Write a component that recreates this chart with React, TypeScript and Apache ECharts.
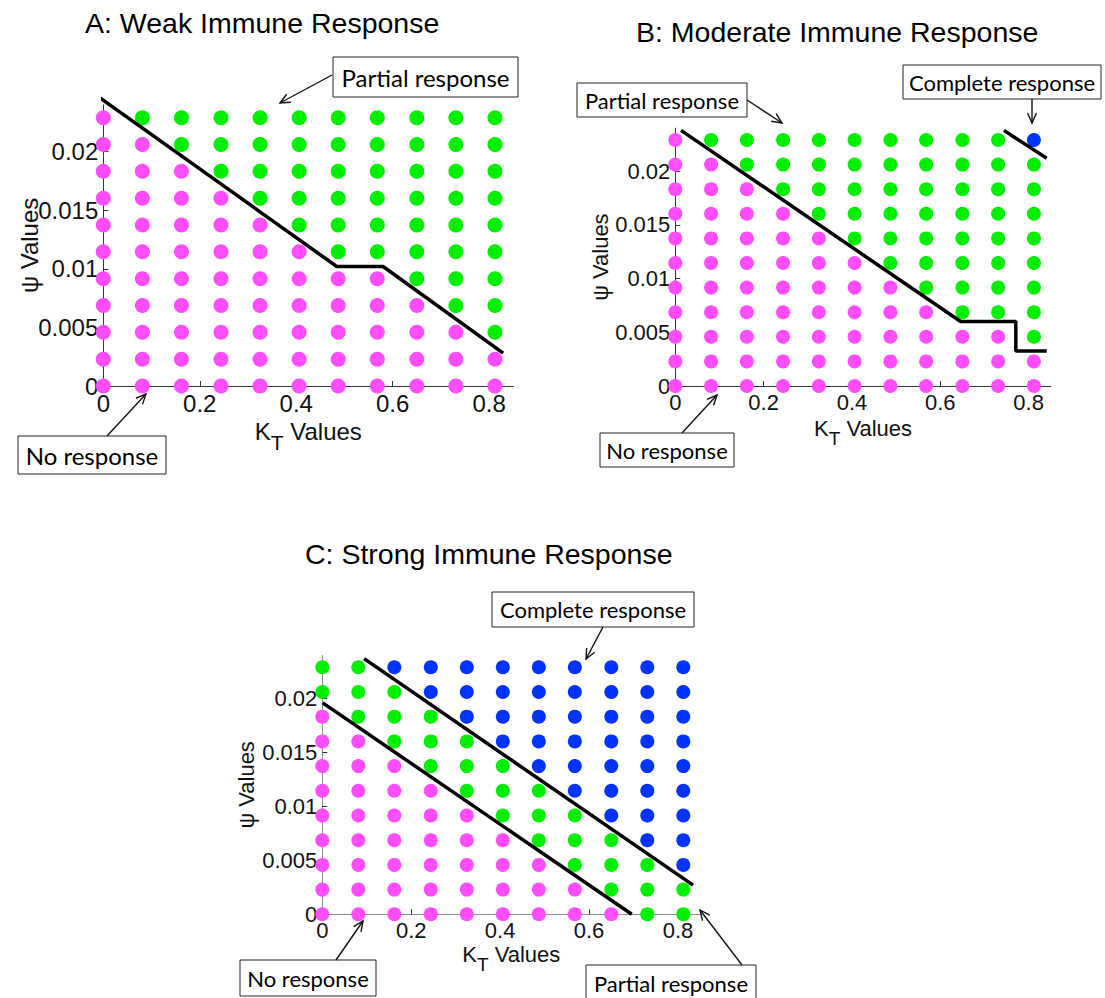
import React, { useEffect, useRef } from "react";
import * as echarts from "echarts";

// ---------- data ----------
const kValues = [0, 0.081, 0.162, 0.244, 0.325, 0.406, 0.487, 0.568, 0.65, 0.731, 0.812];
// rows listed from the top of each plot (largest psi) downwards
const psiValues = [0.0229, 0.02061, 0.01832, 0.01603, 0.01374, 0.01145, 0.00916, 0.00687, 0.00458, 0.00229, 0];
const xTickValues = [0, 0.2, 0.4, 0.6, 0.8];
const yTickValues = [0, 0.005, 0.01, 0.015, 0.02];
const responseNames = ["No response", "Partial response", "Complete response"];
const responseColors = ["#ff4dff", "#00ee00", "#0033ff"];

// 0 = no response, 1 = partial response, 2 = complete response
const weakResponse = [
  [0, 1, 1, 1, 1, 1, 1, 1, 1, 1, 1],
  [0, 0, 1, 1, 1, 1, 1, 1, 1, 1, 1],
  [0, 0, 0, 1, 1, 1, 1, 1, 1, 1, 1],
  [0, 0, 0, 0, 1, 1, 1, 1, 1, 1, 1],
  [0, 0, 0, 0, 0, 1, 1, 1, 1, 1, 1],
  [0, 0, 0, 0, 0, 0, 1, 1, 1, 1, 1],
  [0, 0, 0, 0, 0, 0, 0, 0, 1, 1, 1],
  [0, 0, 0, 0, 0, 0, 0, 0, 0, 1, 1],
  [0, 0, 0, 0, 0, 0, 0, 0, 0, 0, 1],
  [0, 0, 0, 0, 0, 0, 0, 0, 0, 0, 0],
  [0, 0, 0, 0, 0, 0, 0, 0, 0, 0, 0],
];
const moderateResponse = [
  [0, 1, 1, 1, 1, 1, 1, 1, 1, 1, 2],
  [0, 0, 1, 1, 1, 1, 1, 1, 1, 1, 1],
  [0, 0, 0, 1, 1, 1, 1, 1, 1, 1, 1],
  [0, 0, 0, 0, 1, 1, 1, 1, 1, 1, 1],
  [0, 0, 0, 0, 0, 1, 1, 1, 1, 1, 1],
  [0, 0, 0, 0, 0, 0, 1, 1, 1, 1, 1],
  [0, 0, 0, 0, 0, 0, 0, 1, 1, 1, 1],
  [0, 0, 0, 0, 0, 0, 0, 0, 1, 1, 1],
  [0, 0, 0, 0, 0, 0, 0, 0, 0, 0, 1],
  [0, 0, 0, 0, 0, 0, 0, 0, 0, 0, 0],
  [0, 0, 0, 0, 0, 0, 0, 0, 0, 0, 0],
];
const strongResponse = [
  [1, 1, 2, 2, 2, 2, 2, 2, 2, 2, 2],
  [1, 1, 1, 2, 2, 2, 2, 2, 2, 2, 2],
  [0, 1, 1, 1, 2, 2, 2, 2, 2, 2, 2],
  [0, 0, 1, 1, 1, 2, 2, 2, 2, 2, 2],
  [0, 0, 0, 1, 1, 1, 2, 2, 2, 2, 2],
  [0, 0, 0, 0, 1, 1, 1, 2, 2, 2, 2],
  [0, 0, 0, 0, 0, 1, 1, 1, 2, 2, 2],
  [0, 0, 0, 0, 0, 0, 1, 1, 1, 2, 2],
  [0, 0, 0, 0, 0, 0, 0, 1, 1, 1, 2],
  [0, 0, 0, 0, 0, 0, 0, 0, 1, 1, 1],
  [0, 0, 0, 0, 0, 0, 0, 0, 0, 1, 1],
];

// boundary lines, in data coordinates [K_T, psi]
const weakBoundaries = [
  [[-0.007, 0.0246], [0.484, 0.0102], [0.58, 0.0102], [0.829, 0.0028]],
];
const moderateBoundaries = [
  [[0.013, 0.0238], [0.646, 0.006], [0.771, 0.006], [0.771, 0.00326], [0.841, 0.00326]],
  [[0.744, 0.0238], [0.841, 0.0212]],
];
const strongBoundaries = [
  [[0.094, 0.0237], [0.834, 0.0027]],
  [[0.001, 0.0196], [0.696, 0]],
];

// ---------- layout ----------
const FONT = "'Liberation Sans', Arial, Helvetica, sans-serif";
const NOTE_FONT = "Lato, 'Open Sans', sans-serif";

const panels = [
  {
    title: "A: Weak Immune Response", titleLeft: 85, titleTop: 8,
    grid: { left: 103.3, top: 104.8, width: 410, height: 281.2 },
    response: weakResponse, boundaries: weakBoundaries,
    tickFont: 24, nameFont: 24, subFont: 21, subPad: 13, symbolSize: 15,
    xNameGap: 33, yNameGap: 62, axisColor: "#333",
  },
  {
    title: "B: Moderate Immune Response", titleLeft: 636, titleTop: 17,
    grid: { left: 675.3, top: 128.2, width: 375.4, height: 257.8 },
    response: moderateResponse, boundaries: moderateBoundaries,
    tickFont: 22, nameFont: 22, subFont: 19, subPad: 12, symbolSize: 14,
    xNameGap: 31, yNameGap: 64, axisColor: "#333",
  },
  {
    title: "C: Strong Immune Response", titleLeft: 305, titleTop: 539,
    grid: { left: 322.3, top: 655.4, width: 377.9, height: 258.9 },
    response: strongResponse, boundaries: strongBoundaries,
    tickFont: 22, nameFont: 22, subFont: 19, subPad: 12, symbolSize: 14,
    xNameGap: 29, yNameGap: 65, axisColor: "#8c8c8c",
  },
];

const notes = [
  { text: "Partial response", box: [333, 57, 185, 40], size: 24, tail: [332, 75], head: [280, 103] },
  { text: "No response", box: [18, 436, 148, 38], size: 24, tail: [107, 436], head: [146, 394] },
  { text: "Partial response", box: [577, 83, 170, 34], size: 22, tail: [747, 100], head: [782, 123] },
  { text: "Complete response", box: [903, 65, 198, 34], size: 22, tail: [1032, 99], head: [1032, 123] },
  { text: "No response", box: [600, 433, 134, 34], size: 22, tail: [682, 433], head: [717, 395] },
  { text: "Complete response", box: [492, 592, 202, 35], size: 22, tail: [603, 627], head: [586, 659] },
  { text: "No response", box: [240, 960, 136, 36], size: 22, tail: [336, 960], head: [363, 921] },
  { text: "Partial response", box: [586, 965, 170, 36], size: 22, tail: [742, 965], head: [700, 910] },
];

function cells(grid: number[][], cls: number) {
  const out: number[][] = [];
  grid.forEach((row, i) =>
    row.forEach((v, j) => {
      if (v === cls) out.push([kValues[j], psiValues[i]]);
    })
  );
  return out;
}

function arrow(tail: number[], head: number[]) {
  const dx = head[0] - tail[0];
  const dy = head[1] - tail[1];
  const len = Math.hypot(dx, dy);
  const ux = dx / len;
  const uy = dy / len;
  const L = 10;
  const w = 4.5;
  const bx = head[0] - ux * L;
  const by = head[1] - uy * L;
  return [
    {
      type: "line",
      z: 100,
      shape: { x1: tail[0], y1: tail[1], x2: head[0], y2: head[1] },
      style: { stroke: "#111", lineWidth: 1.4 },
    },
    {
      type: "polyline",
      z: 100,
      shape: { points: [[bx - uy * w, by + ux * w], head, [bx + uy * w, by - ux * w]] },
      style: { stroke: "#111", lineWidth: 1.4, fill: null },
    },
  ];
}

function buildOption() {
  const grid: any[] = [];
  const xAxis: any[] = [];
  const yAxis: any[] = [];
  const series: any[] = [];
  const title: any[] = [];

  panels.forEach((p, idx) => {
    title.push({
      text: p.title,
      left: p.titleLeft,
      top: p.titleTop,
      padding: 0,
      textStyle: { fontFamily: FONT, fontSize: 28.5, fontWeight: "normal", color: "#000" },
    });
    grid.push({ ...p.grid, containLabel: false, outerBoundsMode: "none" });
    xAxis.push({
      type: "value",
      gridIndex: idx,
      min: 0,
      max: 0.85,
      name: "{k|K}{t|T}{k| Values}",
      nameLocation: "middle",
      nameGap: p.xNameGap,
      nameMoveOverlap: false,
      nameTextStyle: {
        fontFamily: FONT,
        fontSize: p.nameFont,
        color: "#111",
        rich: {
          k: { fontFamily: FONT, fontSize: p.nameFont, color: "#111", lineHeight: p.nameFont + 2, verticalAlign: "top" },
          t: {
            fontFamily: FONT, fontSize: p.subFont, color: "#111", lineHeight: p.subFont + 2,
            verticalAlign: "top", padding: [p.subPad, 0, 0, 0],
          },
        },
      },
      axisLine: { show: true, lineStyle: { color: p.axisColor, width: 1 } },
      axisTick: { show: true, inside: true, length: 5, customValues: xTickValues, lineStyle: { color: "#333" } },
      axisLabel: {
        customValues: xTickValues,
        margin: 5,
        fontFamily: FONT,
        fontSize: p.tickFont,
        color: "#111",
        formatter: (v: number) => String(+v.toFixed(3)),
      },
      splitLine: { show: false },
    });
    yAxis.push({
      type: "value",
      gridIndex: idx,
      min: 0,
      max: 0.024,
      name: "ψ Values",
      nameLocation: "middle",
      nameGap: p.yNameGap,
      nameMoveOverlap: false,
      nameTextStyle: { fontFamily: FONT, fontSize: p.nameFont, color: "#111" },
      axisLine: { show: true, lineStyle: { color: p.axisColor, width: 1 } },
      axisTick: { show: true, inside: true, length: 5, customValues: yTickValues, lineStyle: { color: "#333" } },
      axisLabel: {
        customValues: yTickValues,
        margin: 5,
        fontFamily: FONT,
        fontSize: p.tickFont,
        color: "#111",
        formatter: (v: number) => String(+v.toFixed(4)),
      },
      splitLine: { show: false },
    });

    responseNames.forEach((name, cls) => {
      const data = cells(p.response, cls);
      if (!data.length) return;
      series.push({
        type: "scatter",
        name,
        xAxisIndex: idx,
        yAxisIndex: idx,
        data,
        symbol: "circle",
        symbolSize: p.symbolSize,
        itemStyle: { color: responseColors[cls], opacity: 1 },
        clip: false,
        z: 2,
      });
    });

    p.boundaries.forEach((b) => {
      series.push({
        type: "line",
        xAxisIndex: idx,
        yAxisIndex: idx,
        data: b,
        symbol: "none",
        clip: false,
        lineStyle: { color: "#000", width: 3.5 },
        z: 5,
      });
    });
  });

  const graphic: any[] = [];
  notes.forEach((n) => {
    const [x, y, w, h] = n.box;
    graphic.push({
      type: "rect",
      z: 100,
      shape: { x, y, width: w, height: h },
      style: { fill: "#fff", stroke: "#222", lineWidth: 1 },
    });
    graphic.push({
      type: "text",
      z: 101,
      x: x + w / 2,
      y: y + h / 2,
      style: {
        text: n.text,
        fontFamily: NOTE_FONT,
        fontSize: n.size,
        fill: "#000",
        align: "center",
        verticalAlign: "middle",
        textAlign: "center",
        textVerticalAlign: "middle",
      },
    });
    graphic.push(...arrow(n.tail, n.head));
  });

  return {
    animation: false,
    backgroundColor: "#fff",
    title,
    grid,
    xAxis,
    yAxis,
    series,
    graphic,
    tooltip: { show: false },
  };
}

export default function App() {
  const ref = useRef<HTMLDivElement>(null);
  useEffect(() => {
    document.body.style.margin = "0";
    if (!ref.current) return;
    const chart = echarts.init(ref.current, undefined, { renderer: "svg" });
    chart.setOption(buildOption() as any);
    return () => chart.dispose();
  }, []);
  return <div ref={ref} style={{ width: 1105, height: 998 }} />;
}
